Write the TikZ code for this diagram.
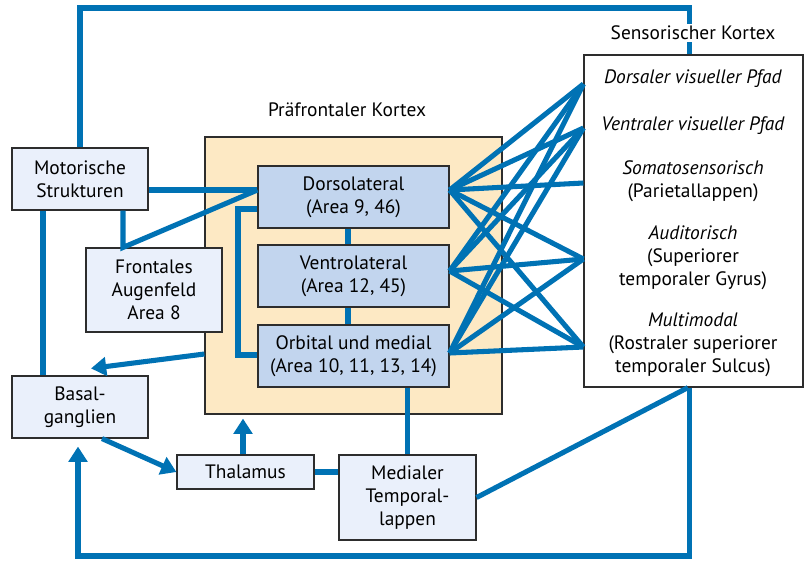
\documentclass[tikz,border=0pt]{standalone}
\usepackage{fontspec}
\setmainfont{PT Sans}
\usetikzlibrary{arrows.meta}

\definecolor{linkblue}{RGB}{0,114,180}
\definecolor{boxline}{RGB}{45,45,45}
\definecolor{boxlight}{RGB}{234,240,251}
\definecolor{boxblue}{RGB}{194,213,238}
\definecolor{pfcfill}{RGB}{253,233,196}

\tikzset{
  region/.style={draw=boxline, line width=0.8pt, fill=boxlight, align=center, inner sep=0pt, minimum width=3.4cm, minimum height=1.55cm},
  pfcarea/.style={region, fill=boxblue, minimum width=4.775cm},
  link/.style={draw=linkblue, line width=3.6pt},
  arrow/.style={link, -{Triangle[length=3.8mm,width=4.6mm]}}
}

\begin{document}
\begin{tikzpicture}[x=0.025cm, y=-0.025cm, font=\fontsize{13.8}{16.3}\selectfont]
            \useasboundingbox (0,0) rectangle (804,562);
            % Praefrontaler Kortex
            \node[draw=boxline, line width=0.8pt, fill=pfcfill, minimum width=7.425cm, minimum height=6.925cm] (pfc) at (353.5,275.5) {};
            \node (pfclabel) at (347,110) {Präfrontaler Kortex};
            \node[pfcarea] (dl) at (353.5,197) {Dorsolateral\\(Area 9, 46)};
            \node[pfcarea] (vl) at (353.5,276) {Ventrolateral\\(Area 12, 45)};
            \node[pfcarea] (om) at (353.5,356) {Orbital und medial\\(Area 10, 11, 13, 14)};
            % linke und untere Kaesten
            \node[region] (motor) at (80,179) {Motorische\\Strukturen};
            \node[region, minimum height=2.1cm] (fef) at (154,290) {Frontales\\Augenfeld\\Area 8};
            \node[region] (basal) at (80,407) {Basal-\\ganglien};
            \node[region, minimum width=3.425cm, minimum height=0.85cm] (thal) at (245.5,472) {Thalamus};
            \node[region, minimum width=3.425cm, minimum height=2.125cm] (mtl) at (407.5,497.5) {Medialer\\Temporal-\\lappen};
            % Sensorischer Kortex
            \node[draw=boxline, line width=0.8pt, fill=white, minimum width=5.475cm, minimum height=8.3cm] (sens) at (693.5,221) {};
            \node (sdv) at (693,79) {\textit{Dorsaler visueller Pfad}};
            \node (svv) at (693,126) {\textit{Ventraler visueller Pfad}};
            \node[align=center] (sso) at (693,181) {\textit{Somatosensorisch}\\(Parietallappen)};
            \node[align=center] (sau) at (693,258) {\textit{Auditorisch}\\(Superiorer\\temporaler Gyrus)};
            \node[align=center] (smm) at (693,345) {\textit{Multimodal}\\(Rostraler superiorer\\temporaler Sulcus)};

            \coordinate (top) at (0,8);
            \coordinate (bottom) at (0,556);
            \coordinate (dlo) at (dl.east |- 0,190);
            \coordinate (vlo) at (vl.east |- 0,271);
            \coordinate (omo) at (om.east |- 0,353);
            \coordinate (sdvin) at (sens.west |- 0,84);
            \coordinate (svvin) at (sens.west |- 0,128);
            \coordinate (ssoin) at (sens.west |- 0,183);
            \coordinate (sauin) at (sens.west |- 0,259);
            \coordinate (smmin) at (sens.west |- 0,347);

            % Verbindungen
            \draw[link] (motor.north) -- (motor.north |- top) -| ([xshift=-0.09cm]sens.north);
            \draw[arrow] ([xshift=-0.09cm]sens.south) -- ([xshift=-0.09cm]sens.south |- bottom) -| ([xshift=-0.05cm,yshift=-0.2cm]basal.south);
            \draw[link] ([xshift=-0.925cm]motor.south) -- ([xshift=-0.925cm]basal.north);
            \draw[link] (motor.south -| 123,0) -- (fef.north -| 123,0) -- (dl.west |- 0,190);
            \draw[link] (motor.east |- 0,190) -- (dl.west |- 0,190);
            \draw[link] (dl.west |- 0,209) -| (238,355) -- (om.west |- 0,355);
            \draw[link] (dl.south -| 348,0) -- (vl.north -| 348,0);
            \draw[link] (vl.south -| 348,0) -- (om.north -| 348,0);
            \draw[arrow] (pfc.west |- 0,354) -- ([xshift=0.275cm,yshift=0.175cm]basal.north);
            \draw[arrow] ([xshift=0.55cm]basal.south) -- (thal.west);
            \draw[arrow, shorten >=0.1cm] (thal.north -| 243,0) -- (pfc.south -| 243,0);
            \draw[link] (thal.east) -- (mtl.west |- thal.east);
            \draw[link] (om.south -| mtl.north) -- (mtl.north);
            \draw[link] (mtl.east) -- ([xshift=-0.14cm]sens.south);
            \draw[link] (dlo) -- (sdvin);
            \draw[link] (dlo) -- (svvin);
            \draw[link] (dlo) -- (ssoin);
            \draw[link] (dlo) -- (sauin);
            \draw[link] (dlo) -- (smmin);
            \draw[link] (vlo) -- (sdvin);
            \draw[link] (vlo) -- (svvin);
            \draw[link] (vlo) -- (sauin);
            \draw[link] (vlo) -- (smmin);
            \draw[link] (omo) -- (sdvin);
            \draw[link] (omo) -- (svvin);
            \draw[link] (omo) -- (sauin);
            \draw[link] (omo) -- (smmin);
            \node[fill=white, inner sep=1.5pt] (senslabel) at (693,33) {Sensorischer Kortex};
        \end{tikzpicture}
\end{document}
